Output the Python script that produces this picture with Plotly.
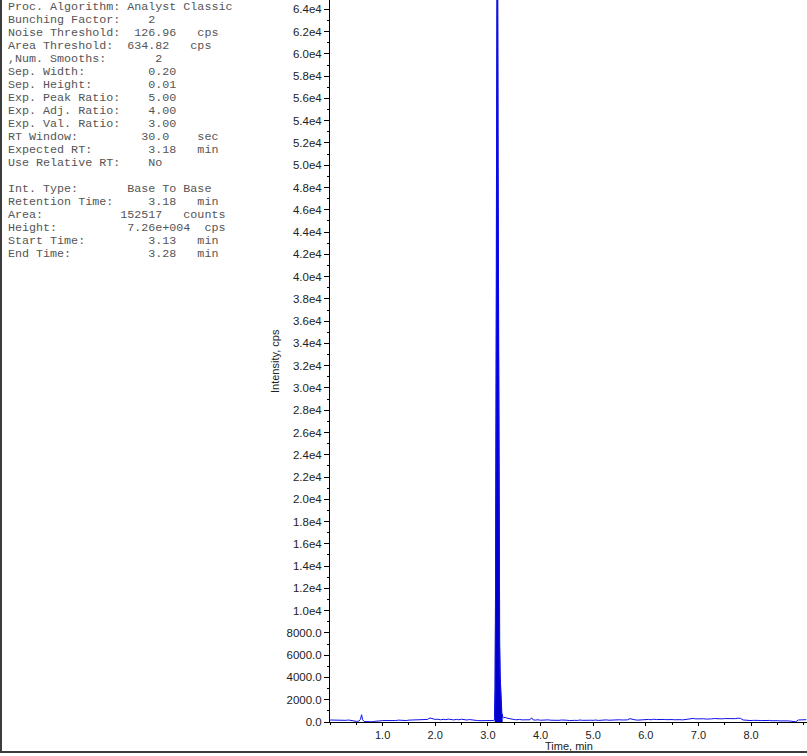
import plotly.graph_objects as go

# ---------------- data ----------------
time_min = [
    0.00, 0.05, 0.10, 0.15, 0.20, 0.25, 0.30, 0.35, 0.40, 0.45, 0.50, 0.55, 0.58, 0.60, 0.62,
    0.65, 0.70, 0.75, 0.80, 0.85, 0.90, 0.95, 1.00, 1.05, 1.10, 1.15, 1.20, 1.25, 1.30, 1.35,
    1.40, 1.45, 1.50, 1.55, 1.60, 1.65, 1.70, 1.75, 1.80, 1.85, 1.90, 1.95, 2.00, 2.05, 2.10,
    2.15, 2.20, 2.25, 2.30, 2.35, 2.40, 2.45, 2.50, 2.55, 2.60, 2.65, 2.70, 2.75, 2.80, 2.85,
    2.90, 2.95, 3.00, 3.05, 3.10, 3.12,
    3.13, 3.14, 3.15, 3.16, 3.17, 3.18, 3.19, 3.20, 3.21, 3.22, 3.23, 3.24, 3.25, 3.26, 3.27, 3.28,
    3.30, 3.33, 3.36, 3.40, 3.45, 3.50, 3.55, 3.60, 3.65, 3.70, 3.75, 3.80, 3.83, 3.86, 3.90,
    3.95, 4.00, 4.05, 4.10, 4.15, 4.20, 4.25, 4.30, 4.35, 4.40, 4.45, 4.50, 4.55, 4.60, 4.65,
    4.70, 4.75, 4.80, 4.85, 4.90, 4.95, 5.00, 5.05, 5.10, 5.15, 5.20, 5.25, 5.30, 5.35, 5.40,
    5.45, 5.50, 5.55, 5.60, 5.65, 5.70, 5.75, 5.80, 5.85, 5.90, 5.95, 6.00, 6.05, 6.10, 6.15,
    6.20, 6.25, 6.30, 6.35, 6.40, 6.45, 6.50, 6.55, 6.60, 6.65, 6.70, 6.75, 6.80, 6.85, 6.90,
    6.95, 7.00, 7.05, 7.10, 7.15, 7.20, 7.25, 7.30, 7.35, 7.40, 7.45, 7.50, 7.55, 7.60, 7.65,
    7.70, 7.75, 7.80, 7.85, 7.90, 7.95, 8.00, 8.05, 8.10, 8.15, 8.20, 8.25, 8.30, 8.35, 8.40,
    8.45, 8.50, 8.55, 8.60, 8.65, 8.70, 8.75, 8.80, 8.85, 8.90, 8.95, 9.00, 9.05,
]
intensity_cps = [
    180, 170, 190, 160, 200, 170, 150, 180, 140, 90, 60, 80, 250, 650, 200,
    40, 20, 30, 20, 60, 110, 100, 130, 120, 150, 110, 140, 130, 170, 140,
    160, 130, 170, 180, 150, 190, 200, 170, 210, 230, 360, 280, 230, 250, 200,
    240, 210, 260, 220, 190, 230, 200, 250, 210, 180, 220, 170, 150, 130, 120,
    110, 100, 120, 110, 130, 150,
    400, 3000, 12000, 28000, 55000, 72600, 50000, 25000, 12000, 7000, 4000, 2200, 1300, 800, 600, 450,
    380, 420, 350, 300, 250, 220, 200, 230, 190, 210, 180, 200, 380, 190, 170,
    200, 160, 180, 150, 190, 160, 140, 170, 150, 180, 140, 160, 130, 170, 150,
    140, 180, 150, 170, 140, 160, 150, 180, 140, 170, 150, 190, 160, 180, 150,
    170, 200, 180, 210, 190, 300, 220, 190, 170, 200, 180, 210, 230, 200, 250,
    220, 240, 270, 230, 210, 240, 220, 200, 230, 210, 190, 220, 240, 230, 320,
    280, 300, 270, 290, 260, 300, 280, 310, 290, 300, 280, 310, 300, 290, 320,
    300, 340, 330, 180, 150, 160, 130, 150, 120, 140, 130, 150, 120, 140, 110,
    130, 120, 100, 120, 90, 100, 80, 30, 20, 180, 200, 190, 210,
]
peak_start = 3.13
peak_end = 3.28

y_tick_vals = [0, 2000, 4000, 6000, 8000, 10000, 12000, 14000, 16000, 18000, 20000,
               22000, 24000, 26000, 28000, 30000, 32000, 34000, 36000, 38000, 40000,
               42000, 44000, 46000, 48000, 50000, 52000, 54000, 56000, 58000, 60000,
               62000, 64000]
y_tick_text = ["0.0", "2000.0", "4000.0", "6000.0", "8000.0", "1.0e4", "1.2e4", "1.4e4",
               "1.6e4", "1.8e4", "2.0e4", "2.2e4", "2.4e4", "2.6e4", "2.8e4", "3.0e4",
               "3.2e4", "3.4e4", "3.6e4", "3.8e4", "4.0e4", "4.2e4", "4.4e4", "4.6e4",
               "4.8e4", "5.0e4", "5.2e4", "5.4e4", "5.6e4", "5.8e4", "6.0e4", "6.2e4",
               "6.4e4"]
x_tick_vals = [1, 2, 3, 4, 5, 6, 7, 8]
x_tick_text = ["1.0", "2.0", "3.0", "4.0", "5.0", "6.0", "7.0", "8.0"]

info_lines = [
    "Proc. Algorithm: Analyst Classic",
    "Bunching Factor:    2",
    "Noise Threshold:  126.96   cps",
    "Area Threshold:  634.82   cps",
    ",Num. Smooths:       2",
    "Sep. Width:         0.20",
    "Sep. Height:        0.01",
    "Exp. Peak Ratio:    5.00",
    "Exp. Adj. Ratio:    4.00",
    "Exp. Val. Ratio:    3.00",
    "RT Window:         30.0    sec",
    "Expected RT:        3.18   min",
    "Use Relative RT:    No",
    "",
    "Int. Type:       Base To Base",
    "Retention Time:     3.18   min",
    "Area:           152517   counts",
    "Height:          7.26e+004  cps",
    "Start Time:         3.13   min",
    "End Time:           3.28   min",
]

# ---------------- layout geometry ----------------
W, H = 807, 756
ML, MR, MT, MB = 330, 0, 0, 34
PW, PH = W - ML - MR, H - MT - MB


def px_x(px):
    return (px - ML) / PW


def px_y(py):
    return (H - MB - py) / PH


fig = go.Figure()

pk_t = [t for t in time_min if peak_start <= t <= peak_end]
pk_v = [v for t, v in zip(time_min, intensity_cps) if peak_start <= t <= peak_end]
fig.add_trace(go.Scatter(x=pk_t, y=pk_v, mode="lines", fill="tozeroy",
                         fillcolor="#0000CC", line=dict(color="#0000CC", width=1.5),
                         hoverinfo="skip", showlegend=False))
fig.add_trace(go.Scatter(x=time_min, y=intensity_cps, mode="lines",
                         line=dict(color="#1010EE", width=1), showlegend=False))

y_tick_font = dict(family="Liberation Sans, Arial, sans-serif", size=11.5, color="#222222")
x_tick_font = dict(family="Liberation Sans, Arial, sans-serif", size=11, color="#222222")

fig.update_xaxes(range=[0, PW / 52.63], tickmode="array", tickvals=x_tick_vals,
                 ticktext=x_tick_text, ticks="outside", ticklen=3, tickcolor="black",
                 showline=True, linecolor="black", linewidth=1, showgrid=False,
                 zeroline=False, tickfont=x_tick_font,
                 minor=dict(ticks="outside", ticklen=2, dtick=0.5, tick0=0, tickcolor="black",
                            showgrid=False))
fig.update_yaxes(range=[0, 64840], tickmode="array", tickvals=y_tick_vals,
                 ticktext=y_tick_text, ticks="outside", ticklen=5, tickcolor="black",
                 showline=True, linecolor="black", linewidth=1, showgrid=False,
                 zeroline=False, tickfont=y_tick_font,
                 minor=dict(ticks="outside", ticklen=2, dtick=1000, tick0=0, tickcolor="black",
                            showgrid=False))

annotations = []
mono = dict(family="Liberation Mono, Courier New, monospace", size=11.7, color="#555555")
for i, line in enumerate(info_lines):
    if not line:
        continue
    annotations.append(dict(text=line.replace(" ", "\u00a0"), xref="paper", yref="paper",
                            x=px_x(7.5), y=px_y(7.5 + 12.95 * i), xanchor="left",
                            yanchor="middle", showarrow=False, font=mono, align="left",
                            borderpad=0, borderwidth=0))

label_font = dict(family="Liberation Sans, Arial, sans-serif", size=11, color="#222222")
annotations.append(dict(text="Intensity, cps", xref="paper", yref="paper",
                        x=px_x(275), y=px_y(361), textangle=-90, showarrow=False,
                        xanchor="center", yanchor="middle", borderpad=0, font=label_font))
annotations.append(dict(text="Time, min", xref="paper", yref="paper",
                        x=px_x(569), y=px_y(746), showarrow=False,
                        xanchor="center", yanchor="middle", borderpad=0, font=label_font))

shapes = [
    dict(type="line", xref="paper", yref="paper", x0=px_x(1), x1=px_x(1),
         y0=px_y(752), y1=px_y(-10), line=dict(color="#3c3c3c", width=2)),
    dict(type="line", xref="paper", yref="paper", x0=px_x(0), x1=px_x(W + 10),
         y0=px_y(752), y1=px_y(752), line=dict(color="#3c3c3c", width=2)),
]

fig.update_layout(width=W, height=H, margin=dict(l=ML, r=MR, t=MT, b=MB, pad=0),
                  paper_bgcolor="white", plot_bgcolor="white", showlegend=False,
                  annotations=annotations, shapes=shapes)

fig.write_html("out.html", config={"displayModeBar": False},
               post_script="document.body.style.margin='0';document.body.style.overflow='hidden';")
